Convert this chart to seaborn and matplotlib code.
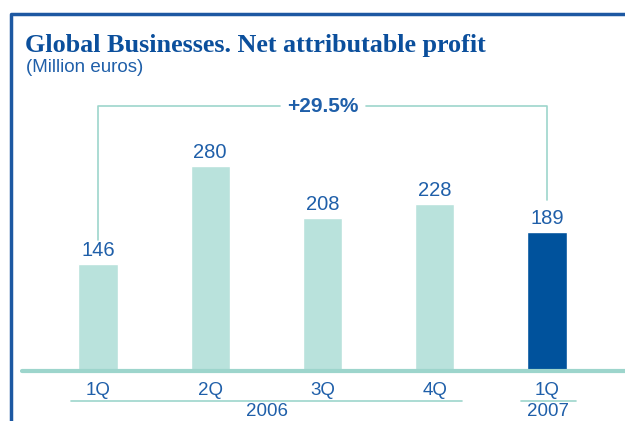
import matplotlib
matplotlib.use("Agg")
import matplotlib.pyplot as plt
import seaborn as sns
from matplotlib.lines import Line2D

# ---------------------------------------------------------------------------
# Data
# ---------------------------------------------------------------------------
periods = ["1Q 2006", "2Q 2006", "3Q 2006", "4Q 2006", "1Q 2007"]
quarters = ["1Q", "2Q", "3Q", "4Q", "1Q"]
profit = [146, 280, 208, 228, 189]
years = ["2006", "2007"]
growth_label = "+29.5%"

LIGHT = "#b9e2dc"
DARK = "#00529c"
TEXT = "#1f5fa9"
TEAL = "#9dd5cc"
bar_colors = [LIGHT, LIGHT, LIGHT, LIGHT, DARK]

W, H = 625, 421
sns.set_style("white")
plt.rcParams["font.family"] = ["Liberation Sans", "DejaVu Sans"]

fig = plt.figure(figsize=(W / 100, H / 100), dpi=100)


def fx(px):
    return px / W


def fy(py):
    return 1 - py / H


# axes: x from 0..625 px, baseline at y=370 px
step = 112.25
x0 = 98
scale = 0.729  # px per million
ax = fig.add_axes([0, fy(370), 1, 370 / H])
sns.barplot(x=periods, y=profit, hue=periods, palette=bar_colors,
            legend=False, width=0.35, saturation=1, ax=ax)
ax.set_xlim(-x0 / step, (W - x0) / step)
ax.set_ylim(0, 370 / scale)
ax.axis("off")

for i, v in enumerate(profit):
    ax.text(i, v + 8 / scale, str(v), ha="center", va="baseline",
            fontsize=14.5, color=TEXT)

# baseline
fig.add_artist(Line2D([fx(22), 1], [fy(371), fy(371)], color=TEAL, lw=3))

# quarter labels
for i, q in enumerate(quarters):
    fig.text(fx(x0 + i * step), fy(395), q, ha="center", va="baseline",
             fontsize=13.5, color=TEXT)

# year underlines and labels
fig.add_artist(Line2D([fx(71), fx(462)], [fy(401), fy(401)], color=TEAL, lw=1.2))
fig.add_artist(Line2D([fx(521), fx(576)], [fy(401), fy(401)], color=TEAL, lw=1.2))
fig.text(fx(267), fy(420), years[0], ha="center", va="bottom",
         fontsize=13.5, color=TEXT)
fig.text(fx(548), fy(420), years[1], ha="center", va="bottom",
         fontsize=13.5, color=TEXT)

# growth bracket
xl, xr = x0, x0 + 4 * step
yb = 106
fig.add_artist(Line2D([fx(xl), fx(xl), fx(280)], [fy(240), fy(yb), fy(yb)],
                      color=TEAL, lw=1.2))
fig.add_artist(Line2D([fx(366), fx(xr), fx(xr)], [fy(yb), fy(yb), fy(200)],
                      color=TEAL, lw=1.2))
fig.text(fx(323), fy(yb), growth_label, ha="center", va="center",
         fontsize=15, fontweight="bold", color=TEXT)

# title
fig.text(fx(25), fy(52), "Global Businesses. Net attributable profit",
         ha="left", va="baseline", fontsize=18.8, fontweight="bold",
         color="#0b4f9c", family=["Liberation Serif", "DejaVu Serif"])
fig.text(fx(26), fy(68), "(Million euros)", ha="left", va="center",
         fontsize=13.5, color=TEXT)

# frame
fig.add_artist(Line2D([fx(10.5), fx(10.5), 1], [0, fy(13.5), fy(13.5)],
                      color="#1d58a2", lw=2.5))

fig.savefig("out.png", dpi=100)
